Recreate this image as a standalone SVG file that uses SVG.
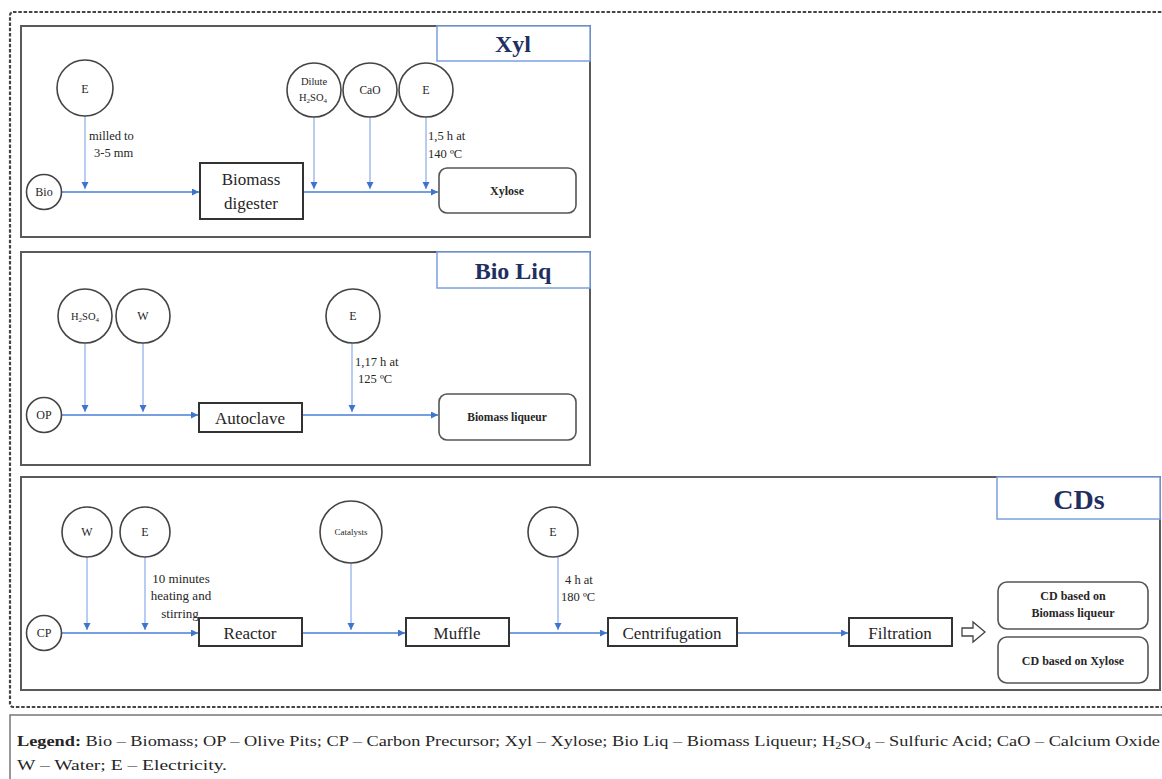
<svg xmlns="http://www.w3.org/2000/svg" width="1162" height="779" viewBox="0 0 1162 779">
<defs>
<marker id="ah" markerUnits="userSpaceOnUse" markerWidth="8" markerHeight="8" refX="7" refY="3.5" orient="auto"><path d="M0,0 L7,3.5 L0,7 z" fill="#3f73d0"/></marker>
</defs>
<style>
.t{font-family:"Liberation Serif","Times New Roman",serif;fill:#262626}
.b{font-weight:bold}
.panel{fill:none;stroke:#5a5a5a;stroke-width:2}
.title{fill:#fff;stroke:#7aa0e0;stroke-width:1.5}
.ttl{font-family:"Liberation Serif","Times New Roman",serif;font-weight:bold;fill:#1f3060}
.c{fill:#fff;stroke:#444;stroke-width:1.6}
.box{fill:#fff;stroke:#333;stroke-width:2}
.out{fill:#fff;stroke:#555;stroke-width:1.6}
.flow{fill:none;stroke:#4a7fd6;stroke-width:1.3;marker-end:url(#ah)}
.drop{fill:none;stroke:#7ea4e4;stroke-width:1.1;marker-end:url(#ah)}
</style>
<rect x="0" y="0" width="1162" height="779" fill="#fff"/>
<rect x="10" y="12" width="1160" height="695" rx="3" fill="none" stroke="#444" stroke-width="2.2" stroke-dasharray="3.5 1.8"/>

<g id="panel-xyl"><rect class="panel" x="21" y="26" width="569" height="211"/><rect class="title" x="437" y="26" width="153" height="35"/><text class="ttl" x="513" y="52" font-size="24" text-anchor="middle">Xyl</text></g>
<g id="panel-bioliq"><rect class="panel" x="21" y="252" width="569" height="213"/><rect class="title" x="437" y="252" width="153" height="36"/><text class="ttl" x="513" y="279" font-size="24" text-anchor="middle">Bio Liq</text></g>
<g id="panel-cds"><rect class="panel" x="21" y="477" width="1139" height="213"/><rect class="title" x="997" y="477" width="163" height="42"/><text class="ttl" x="1079" y="509" font-size="28" text-anchor="middle">CDs</text></g>

<g id="connectors">
<path class="flow" d="M62,192 H199"/>
<path class="drop" d="M85,116 V189"/>
<path class="flow" d="M303,192 H438"/>
<path class="drop" d="M314,117 V189"/>
<path class="drop" d="M370,117 V189"/>
<path class="drop" d="M426,117 V189"/>
<path class="flow" d="M62,415 H198"/>
<path class="drop" d="M85,343 V412"/>
<path class="drop" d="M143,343 V412"/>
<path class="flow" d="M302,415 H438"/>
<path class="drop" d="M352,343 V412"/>
<path class="flow" d="M62,633 H198"/>
<path class="drop" d="M87,557 V630"/>
<path class="drop" d="M145,557 V630"/>
<path class="flow" d="M302,633 H405"/>
<path class="drop" d="M351,563 V630"/>
<path class="flow" d="M509,633 H607"/>
<path class="drop" d="M558,557 V630"/>
<path class="flow" d="M737,633 H848"/>
<polygon points="962,628 973,628 973,622 985,632 973,642 973,636 962,636" fill="#fff" stroke="#444" stroke-width="1.3"/>
</g>

<g id="bio"><circle class="c" cx="44" cy="192" r="17.5"/><text class="t" x="44" y="196" font-size="12" text-anchor="middle">Bio</text></g>
<g id="e1"><circle class="c" cx="85" cy="88" r="28"/><text class="t" x="85" y="93" font-size="12" text-anchor="middle">E</text></g>
<g id="label-milled"><text class="t" x="89" y="140" font-size="12.5">milled to</text><text class="t" x="94" y="157" font-size="12.5">3-5 mm</text></g>
<g id="digester"><rect class="box" x="200" y="163" width="103" height="56"/><text class="t" x="251" y="185" font-size="17" text-anchor="middle">Biomass</text><text class="t" x="251" y="209" font-size="17" text-anchor="middle">digester</text></g>
<g id="dilute"><circle class="c" cx="314" cy="90" r="27"/><text class="t" x="314" y="85" font-size="10.5" text-anchor="middle">Dilute</text><text class="t" x="313" y="101" font-size="10.5" text-anchor="middle">H<tspan dy="2" font-size="7">2</tspan><tspan dy="-2">SO</tspan><tspan dy="2" font-size="7">4</tspan></text></g>
<g id="cao"><circle class="c" cx="370" cy="90" r="27"/><text class="t" x="370" y="94" font-size="11.5" text-anchor="middle">CaO</text></g>
<g id="e2"><circle class="c" cx="426" cy="90" r="27"/><text class="t" x="426" y="94" font-size="12" text-anchor="middle">E</text></g>
<g id="label-15h"><text class="t" x="428" y="140" font-size="12.5">1,5 h at</text><text class="t" x="428" y="158" font-size="12.5">140 ºC</text></g>
<g id="xylose"><rect class="out" x="439" y="168" width="137" height="45" rx="8"/><text class="t b" x="507" y="195" font-size="12" text-anchor="middle">Xylose</text></g>

<g id="op"><circle class="c" cx="44" cy="415" r="17.5"/><text class="t" x="44" y="419" font-size="12" text-anchor="middle">OP</text></g>
<g id="h2so4"><circle class="c" cx="85" cy="316" r="27"/><text class="t" x="85" y="320" font-size="10.5" text-anchor="middle">H<tspan dy="2" font-size="7">2</tspan><tspan dy="-2">SO</tspan><tspan dy="2" font-size="7">4</tspan></text></g>
<g id="w1"><circle class="c" cx="143" cy="316" r="27"/><text class="t" x="143" y="320" font-size="12" text-anchor="middle">W</text></g>
<g id="autoclave"><rect class="box" x="199" y="403" width="103" height="29"/><text class="t" x="250" y="424" font-size="17" text-anchor="middle">Autoclave</text></g>
<g id="e3"><circle class="c" cx="353" cy="316" r="27"/><text class="t" x="353" y="320" font-size="12" text-anchor="middle">E</text></g>
<g id="label-117h"><text class="t" x="355" y="366" font-size="12.5">1,17 h at</text><text class="t" x="358" y="383" font-size="12.5">125 ºC</text></g>
<g id="liqueur"><rect class="out" x="439" y="394" width="137" height="46" rx="8"/><text class="t b" x="507" y="421" font-size="11.5" text-anchor="middle">Biomass liqueur</text></g>

<g id="cp"><circle class="c" cx="44" cy="633" r="17.5"/><text class="t" x="44" y="637" font-size="12" text-anchor="middle">CP</text></g>
<g id="w2"><circle class="c" cx="87" cy="532" r="25"/><text class="t" x="87" y="536" font-size="12" text-anchor="middle">W</text></g>
<g id="e4"><circle class="c" cx="145" cy="532" r="25"/><text class="t" x="145" y="536" font-size="12" text-anchor="middle">E</text></g>
<g id="label-10min"><text class="t" x="181" y="583" font-size="13" text-anchor="middle">10 minutes</text><text class="t" x="181" y="600" font-size="13" text-anchor="middle">heating and</text><text class="t" x="180" y="618" font-size="13" text-anchor="middle">stirring</text></g>
<g id="reactor"><rect class="box" x="199" y="618" width="103" height="28"/><text class="t" x="250" y="639" font-size="17" text-anchor="middle">Reactor</text></g>
<g id="catalysts"><circle class="c" cx="351" cy="532" r="31"/><text class="t" x="351" y="535" font-size="9" text-anchor="middle">Catalysts</text></g>
<g id="muffle"><rect class="box" x="406" y="618" width="103" height="28"/><text class="t" x="457" y="639" font-size="17" text-anchor="middle">Muffle</text></g>
<g id="e5"><circle class="c" cx="553" cy="532" r="25"/><text class="t" x="553" y="536" font-size="12" text-anchor="middle">E</text></g>
<g id="label-4h"><text class="t" x="565" y="584" font-size="12.5">4 h at</text><text class="t" x="561" y="601" font-size="12.5">180 ºC</text></g>
<g id="centrifugation"><rect class="box" x="608" y="618" width="129" height="28"/><text class="t" x="672" y="639" font-size="17" text-anchor="middle">Centrifugation</text></g>
<g id="filtration"><rect class="box" x="849" y="618" width="103" height="28"/><text class="t" x="900" y="639" font-size="17" text-anchor="middle">Filtration</text></g>
<g id="cd-liqueur"><rect class="out" x="998" y="582" width="150" height="47" rx="9"/><text class="t b" x="1073" y="600" font-size="12" text-anchor="middle">CD based on</text><text class="t b" x="1073" y="617" font-size="12" text-anchor="middle">Biomass liqueur</text></g>
<g id="cd-xylose"><rect class="out" x="998" y="637" width="150" height="46" rx="9"/><text class="t b" x="1073" y="665" font-size="12" text-anchor="middle">CD based on Xylose</text></g>

<g id="legend">
<rect x="10" y="715" width="1160" height="80" fill="none" stroke="#777" stroke-width="1.5"/>
<text class="t" x="17" y="746" font-size="15" textLength="1143" lengthAdjust="spacingAndGlyphs"><tspan class="b">Legend:</tspan> Bio – Biomass; OP – Olive Pits; CP – Carbon Precursor; Xyl – Xylose; Bio Liq – Biomass Liqueur; H<tspan dy="3" font-size="10">2</tspan><tspan dy="-3">SO</tspan><tspan dy="3" font-size="10">4</tspan><tspan dy="-3"> – Sulfuric Acid; CaO – Calcium Oxide</tspan></text>
<text class="t" x="17" y="770" font-size="15" textLength="210" lengthAdjust="spacingAndGlyphs">W – Water; E – Electricity.</text>
</g>
</svg>
